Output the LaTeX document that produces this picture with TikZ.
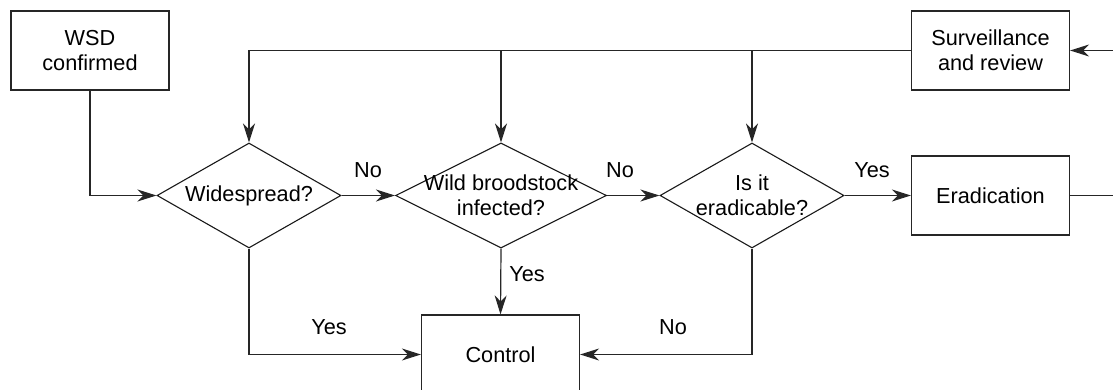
\documentclass[tikz,border=0pt]{standalone}
\usepackage{fontspec}
\setmainfont{Liberation Sans}
\usetikzlibrary{arrows.meta,shapes.geometric}
\begin{document}
\begin{tikzpicture}[x=1pt,y=-1pt,
  every node/.style={font=\fontsize{21.7}{25}\selectfont},
  box/.style={draw=black!85, line width=1.2pt, minimum width=158pt, minimum height=79pt,
    inner sep=0pt, align=center},
  dia/.style={draw=black!90, line width=1.1pt, diamond, inner sep=0pt,
    minimum width=184pt, minimum height=105pt},
  txt/.style={align=center, inner sep=0pt},
  lbl/.style={inner sep=0pt},
  link/.style={draw=black!85, line width=1.2pt},
  flow/.style={link, -{Stealth[length=19pt,width=12pt,inset=6pt]}}]
\useasboundingbox (0,0) rectangle (1113,390);
\clip (0,0) rectangle (1113,390);

% process boxes
\node[box] (wsd)  at (90,50.5)    {WSD\\confirmed};
\node[box] (surv) at (990.5,50.5) {Surveillance\\and review};
\node[box] (erad) at (990.5,195.5) {Eradication};
\node[box] (ctrl) at (500.5,354.5) {Control};

% decisions
\node[dia] (d1) at (249,195.5) {};
\node[txt] (d1t) at (d1) {Widespread?};
\node[dia, minimum width=211pt] (d2) at (501,195.5) {};
\node[txt] (d2t) at (d2) {Wild broodstock\\infected?};
\node[dia] (d3) at (752,195.5) {};
\node[txt] (d3t) at (d3) {Is it\\eradicable?};

% main flow
\draw[flow] (wsd.south) |- (d1.west);
\draw[flow] (d1.east) -- (d2.west);
\draw[flow] (d2.east) -- (d3.west);
\draw[flow] (d3.east) -- (erad.west);

% feedback from surveillance to every decision
\draw[flow] (surv.west) -| (d1.north);
\draw[flow] (d2.north |- surv.west) -- (d2.north);
\draw[flow] (d3.north |- surv.west) -- (d3.north);

% eradication loops back to surveillance
\coordinate (rt) at (1125,195.5);
\draw[flow] (erad.east) -- (rt) |- (surv.east);

% branches into control
\draw[flow] (d1.south) |- (ctrl.west);
\draw[flow] (d2.south) -- (ctrl.north);
\draw[flow] (d3.south) |- (ctrl.east);

% branch labels
\node[lbl] (l1) at (368,170) {No};
\node[lbl] (l2) at (620,170) {No};
\node[lbl] (l3) at (872,170) {Yes};
\node[lbl] (l4) at (527,274) {Yes};
\node[lbl] (l5) at (329,327) {Yes};
\node[lbl] (l6) at (673,327) {No};
\end{tikzpicture}
\end{document}
